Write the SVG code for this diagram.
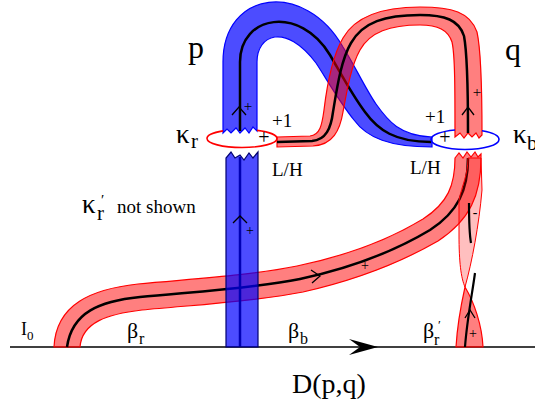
<svg xmlns="http://www.w3.org/2000/svg" width="535" height="406" viewBox="0 0 535 406">
<style>
.blue{fill:#0000ff;fill-opacity:0.7;stroke:#0000ff;stroke-width:1.2}
.blue2{fill:#0000ff;fill-opacity:0.7;stroke:#000070;stroke-width:1.2}
.red{fill:#ff0000;fill-opacity:0.5;stroke:#ff0000;stroke-width:1.2}
.redl{fill:#ff0000;fill-opacity:0.25;stroke:#ff0000;stroke-width:1}
.core{fill:none;stroke:#000;stroke-width:2.5}
.chev{fill:none;stroke:#000;stroke-width:1.3}
</style>
<g id="baseline">
<line x1="10" y1="347" x2="535" y2="347" stroke="#000" stroke-width="1.6"/>
<path d="M378,347 L349,339 L360,347 L349,355 Z" fill="#000"/>
</g>
<g id="band-q-lower">
<path class="red" d="M455,158 L459,153 L463,158 L467,152 L471,157 L475,152 L478,157 L481,154 L481,158 C481,195 470,220 438,241 C405,260 365,278 303,292 C252,302 192,305 142,310 C108,314 82,322 80,347 L54,347 C56,304 92,289 138,284 C188,279 248,276 297,266 C355,254 395,236 423,219 C448,203 455,185 455,158 Z"/>
<path class="core" d="M468,158 C468,190 458,212 430,230 C400,248 360,266 300,279 C250,289 190,292 140,297 C100,301 72,312 67,347"/>
<path class="chev" d="M311,270 L320,276 L312,283"/>
<path class="redl" d="M468,158 L481,158 L482,190 C479,225 472,262 465,287 C461,278 459,262 459,235 L459,200 C462,185 468,175 468,158 Z"/>
<path class="red" d="M465,287 C461,305 457,330 456,347 L483,347 C482,325 474,302 465,287 Z"/>
<path fill="none" stroke="#000" stroke-width="2.2" d="M469,203 C469,220 469,232 471,243"/>
<path fill="none" stroke="#000" stroke-width="2.2" d="M475,273 C472,295 467,320 465,347"/>
<path class="chev" d="M465,318 L470,310 L475,318"/>
</g>
<g id="band-p-lower">
<line x1="240" y1="157" x2="240" y2="347" stroke="#000" stroke-width="2.5"/>
<path class="blue2" d="M226,347 L226,158 L231,152 L235,158 L240,155 L244,160 L249,153 L253,158 L258,152 L258,347 Z"/>
<path class="chev" d="M233,223 L240,216 L247,223"/>
</g>
<g id="band-p-upper">
<path class="blue" d="M223,133 L223,62 C223,-10 305,-20 343,47 C354,64 365,88 376,104 C388,121 400,136 432,137 L432,147 C390,147 367,138 354,120 C338,100 326,78 316,63 C285,22 257,35 257,62 L257,131 L253,127 L249,133 L245,128 L240,133 L236,128 L231,133 L227,129 L223,133 Z"/>
<path class="core" d="M240,131 L240,62 C240,15 300,5 330,55 C340,72 352,95 365,112 C378,130 395,142 431,142"/>
<path class="chev" d="M232,115 L239,107 L246,115"/>
</g>
<g id="band-q-upper">
<path class="red" d="M277,137 L310,136 C320,135 322,125 324,110 C327,85 333,55 343,38 C356,15 385,7 420,7 C452,7 470,12 477,32 C481,50 482,80 482,135 L479,138 L476,133 L472,137 L468,133 L464,138 L460,133 L455,137 L455,135 C455,90 455,55 452,42 C448,30 438,25 420,25 C390,25 370,32 360,50 C351,66 347,90 343,112 C340,130 333,145 313,146 L277,147 Z"/>
<path class="core" d="M277,142 L312,141 C326,140 331,128 333,112 C337,88 341,60 351,43 C363,22 385,15 420,15 C445,15 459,20 464,36 C467,52 468,80 468,133"/>
<path class="chev" d="M462,115 L468,107 L474,115"/>
</g>
<g id="kappa-r">
<path fill="none" stroke="#ff0000" stroke-width="1.6" d="M207,138.5 A35,9 0 0 1 223,130.9 M257,130.4 A35,9 0 0 1 277,138.5 A35,9 0 0 1 207,138.5"/>
</g>
<g id="kappa-b">
<path fill="none" stroke="#0000ff" stroke-width="1.6" d="M431,139.5 A34,10 0 0 1 455,130 M482,130.8 A34,10 0 0 1 499,139.5 A34,10 0 0 1 431,139.5"/>
</g>
<g id="labels" font-family="'Liberation Serif', 'Times New Roman', serif" fill="#000">
<text x="188" y="58" font-size="32">p</text>
<text x="505" y="60" font-size="32">q</text>
<text x="176" y="143" font-size="27">κ</text>
<text x="191" y="148" font-size="21">r</text>
<text x="513" y="143" font-size="27">κ</text>
<text x="527" y="150" font-size="21">b</text>
<text x="272" y="127" font-size="19">+1</text>
<text x="425" y="123" font-size="19">+1</text>
<text x="264" y="144" font-size="20" text-anchor="middle">+</text>
<text x="445" y="144" font-size="20" text-anchor="middle">+</text>
<text x="272" y="176" font-size="19">L/H</text>
<text x="410" y="174" font-size="19">L/H</text>
<text x="248" y="111" font-size="15" text-anchor="middle">+</text>
<text x="477" y="97" font-size="15" text-anchor="middle">+</text>
<text x="250" y="235" font-size="14" text-anchor="middle">+</text>
<text x="365" y="270" font-size="14" text-anchor="middle">+</text>
<text x="473" y="338" font-size="14" text-anchor="middle">+</text>
<text x="475" y="217" font-size="14" text-anchor="middle">-</text>
<text x="82" y="213" font-size="27">κ</text>
<text x="101" y="205" font-size="15">′</text>
<text x="97" y="220" font-size="21">r</text>
<text x="117" y="213" font-size="19">not shown</text>
<text x="21" y="335" font-size="18">I</text>
<text x="27" y="340" font-size="13">0</text>
<text x="127" y="338" font-size="22">β</text>
<text x="139" y="344" font-size="16">r</text>
<text x="288" y="338" font-size="22">β</text>
<text x="300" y="344" font-size="16">b</text>
<text x="423" y="338" font-size="22">β</text>
<text x="438" y="329" font-size="13">′</text>
<text x="434" y="345" font-size="16">r</text>
<text x="292" y="393" font-size="28">D(p,q)</text>
</g>
</svg>
